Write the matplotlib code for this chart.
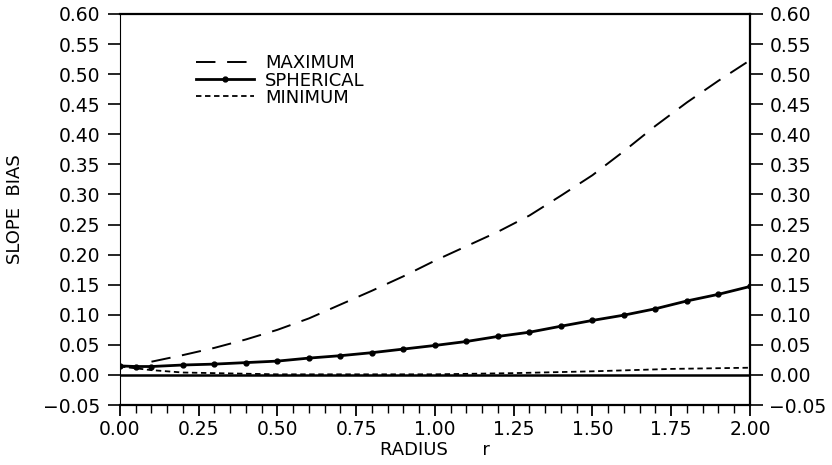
import numpy as np
import matplotlib
matplotlib.use("Agg")
import matplotlib.pyplot as plt
from matplotlib.ticker import MultipleLocator

# values
r_sph = [0.0, 0.05, 0.1, 0.2, 0.3, 0.4, 0.5, 0.6, 0.7, 0.8, 0.9, 1.0,
         1.1, 1.2, 1.3, 1.4, 1.5, 1.6, 1.7, 1.8, 1.9, 2.0]
bias_sph = [0.015, 0.014, 0.014, 0.0165, 0.018, 0.0205, 0.023, 0.028, 0.032, 0.037, 0.043, 0.049,
            0.0556, 0.064, 0.071, 0.081, 0.0906, 0.0994, 0.110, 0.123, 0.134, 0.147]

r_max = [0.1, 0.2, 0.3, 0.4, 0.5, 0.6, 0.7, 0.8, 0.9, 1.0,
         1.1, 1.2, 1.3, 1.4, 1.5, 1.6, 1.7, 1.8, 1.9, 2.0]
bias_max = [0.022, 0.033, 0.045, 0.059, 0.075, 0.094, 0.117, 0.140, 0.164, 0.190,
            0.214, 0.238, 0.265, 0.298, 0.332, 0.372, 0.414, 0.453, 0.489, 0.523]

r_min = [0.0, 0.1, 0.2, 0.3, 0.5, 0.75, 1.0, 1.25, 1.5, 1.75, 2.0]
bias_min = [0.014, 0.008, 0.004, 0.003, 0.001, 0.001, 0.001, 0.003, 0.006, 0.010, 0.012]

plt.rcParams["font.family"] = ["DejaVu Sans"]

fig = plt.figure(figsize=(8.32, 4.65), dpi=100)
ax = fig.add_axes([0.1442, 0.129, 0.7572, 0.841])

ax.axhline(0.0, color="black", lw=1.8, zorder=1)
ax.plot(r_max, bias_max, color="black", lw=1.4, dashes=(10, 6), label="MAXIMUM")
ax.plot(r_sph, bias_sph, color="black", lw=2.0, marker="o", ms=3.5, label="SPHERICAL")
ax.plot(r_min, bias_min, color="black", lw=1.3, dashes=(3, 2), label="MINIMUM")

ax.set_xlim(0, 2.0)
ax.set_ylim(-0.05, 0.60)
ax.xaxis.set_major_locator(MultipleLocator(0.25))
ax.xaxis.set_minor_locator(MultipleLocator(0.05))
ax.yaxis.set_major_locator(MultipleLocator(0.05))
ax.xaxis.set_major_formatter(plt.FuncFormatter(lambda v, p: f"{v:.2f}"))
ax.yaxis.set_major_formatter(plt.FuncFormatter(lambda v, p: f"{v:.2f}".replace("-", "\u2212")))

ax.tick_params(axis="x", which="major", direction="out", length=8, width=1.3, labelsize=13.5, pad=3)
ax.tick_params(axis="x", which="minor", direction="out", length=6, width=1.0)
ax.tick_params(axis="y", which="major", direction="out", length=9, width=1.2, labelsize=13.5,
               left=True, right=True, labelleft=True, labelright=True, pad=5)

for side in ["top", "right", "bottom"]:
    ax.spines[side].set_linewidth(1.6)
ax.spines["left"].set_linewidth(0.8)

ax.set_xlabel("RADIUS      r", fontsize=13, labelpad=1)
ax.set_ylabel("SLOPE  BIAS", fontsize=13)
ax.yaxis.set_label_coords(-0.152, 0.5)

ax.legend(loc="upper left", bbox_to_anchor=(0.11, 0.915), frameon=False, fontsize=13,
          handlelength=3.2, handletextpad=0.6, labelspacing=-0.05, borderaxespad=0)

fig.savefig("out.png", dpi=100)
